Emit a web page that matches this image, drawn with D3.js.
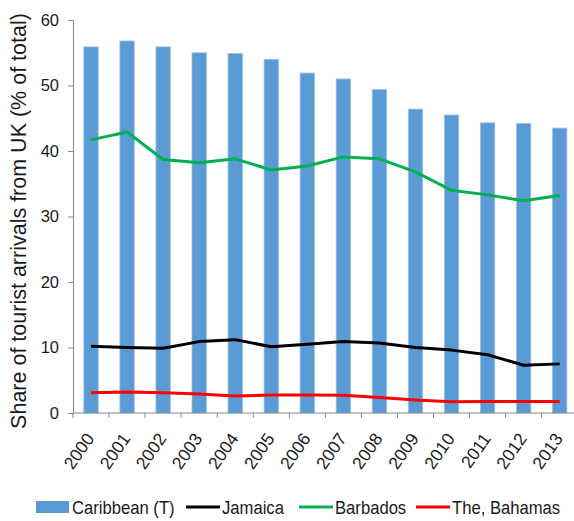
<!DOCTYPE html>
<html>
<head>
<meta charset="utf-8">
<script src="https://cdn.jsdelivr.net/npm/d3@7"></script>
<style>
  html, body { margin: 0; padding: 0; background: #fff; }
  svg { display: block; font-family: "Liberation Sans", Arial, sans-serif; }
</style>
</head>
<body>
<svg id="chart" width="574" height="521"></svg>
<script>
// Share of tourist arrivals from the UK, 2000–2013 (% of total)
const years = ["2000","2001","2002","2003","2004","2005","2006","2007","2008","2009","2010","2011","2012","2013"];
const caribbean = [55.9, 56.8, 55.9, 55.0, 54.9, 54.0, 51.9, 51.0, 49.4, 46.4, 45.5, 44.3, 44.2, 43.5];
const jamaica   = [10.2, 10.0, 9.9, 10.9, 11.2, 10.1, 10.5, 10.9, 10.7, 10.0, 9.6, 8.9, 7.3, 7.5];
const barbados  = [41.7, 42.9, 38.7, 38.2, 38.8, 37.1, 37.7, 39.1, 38.8, 36.8, 34.0, 33.3, 32.4, 33.2];
const bahamas   = [3.1, 3.2, 3.1, 2.9, 2.6, 2.75, 2.75, 2.7, 2.35, 2.0, 1.7, 1.75, 1.75, 1.75];
const yTicks = [0, 10, 20, 30, 40, 50, 60];

const seriesLines = [
  { name: "Jamaica", values: jamaica, color: "#000000" },
  { name: "Barbados", values: barbados, color: "#00B050" },
  { name: "The, Bahamas", values: bahamas, color: "#FF0000" }
];

const svg = d3.select("#chart");
const plotLeft = 73, plotRight = 577.7, plotTop = 20, plotBottom = 413;
const axisColor = "#868686";
const textColor = "#1a1a1a";

const x = d3.scaleBand().domain(years).range([plotLeft, plotRight]).paddingInner(0).paddingOuter(0);
const y = d3.scaleLinear().domain([0, 60]).range([plotBottom, plotTop]);
const barW = x.bandwidth() * 0.4;

// Bars
svg.append("g").selectAll("rect")
  .data(years.map((yr, i) => ({ yr, v: caribbean[i] })))
  .join("rect")
  .attr("x", d => x(d.yr) + (x.bandwidth() - barW) / 2)
  .attr("y", d => y(d.v))
  .attr("width", barW)
  .attr("height", d => y(0) - y(d.v))
  .attr("fill", "#5B9BD5")
  .attr("stroke", "#9cc2e8")
  .attr("stroke-width", 0.8);

// Lines
const line = d3.line()
  .x((d, i) => x(years[i]) + x.bandwidth() / 2)
  .y(d => y(d));
svg.append("g").selectAll("path")
  .data(seriesLines)
  .join("path")
  .attr("d", d => line(d.values))
  .attr("fill", "none")
  .attr("stroke", d => d.color)
  .attr("stroke-width", 3)
  .attr("stroke-linejoin", "round");

// Y axis
const yAxis = svg.append("g")
  .attr("transform", `translate(${plotLeft},0)`)
  .call(d3.axisLeft(y).tickValues(yTicks).tickSize(5).tickPadding(9));
yAxis.select(".domain").attr("stroke", axisColor);
yAxis.selectAll(".tick line").attr("stroke", axisColor);
yAxis.selectAll(".tick text")
  .attr("font-size", 16.5).attr("fill", textColor)
  .attr("font-family", "Liberation Sans, Arial, sans-serif");

// X axis: ticks on category boundaries
const xg = svg.append("g").attr("transform", `translate(0,${plotBottom})`);
xg.append("line").attr("x1", plotLeft).attr("x2", plotRight).attr("stroke", axisColor);
xg.selectAll("line.tk")
  .data(d3.range(years.length + 1))
  .join("line").attr("class", "tk")
  .attr("x1", i => plotLeft + i * x.step()).attr("x2", i => plotLeft + i * x.step())
  .attr("y1", 0).attr("y2", 5)
  .attr("stroke", axisColor);
xg.selectAll("text")
  .data(years)
  .join("text")
  .attr("transform", d => `translate(${x(d) + x.bandwidth() / 2 + 4},${25.5}) rotate(-55)`)
  .attr("text-anchor", "end")
  .attr("font-size", 17.5)
  .attr("fill", textColor)
  .text(d => d);

// Y axis title
svg.append("text")
  .attr("transform", `translate(26,221) rotate(-90)`)
  .attr("text-anchor", "middle")
  .attr("font-size", 21.5)
  .attr("fill", textColor)
  .text("Share of tourist arrivals from UK (% of total)");

// Legend
const lg = svg.append("g").attr("transform", "translate(0,507)");
lg.append("rect").attr("x", 36).attr("y", -6).attr("width", 33).attr("height", 12).attr("fill", "#5B9BD5");
const legendText = (x0, label) =>
  lg.append("text")
    .attr("transform", `translate(${x0},6.5) scale(0.9,1)`)
    .attr("font-size", 18.5)
    .attr("fill", textColor)
    .text(label);
legendText(72, "Caribbean (T)");
const legendItems = [
  { s: seriesLines[0], x0: 186 },
  { s: seriesLines[1], x0: 299 },
  { s: seriesLines[2], x0: 416 }
];
legendItems.forEach(it => {
  lg.append("line").attr("x1", it.x0).attr("x2", it.x0 + 34).attr("y1", 0).attr("y2", 0)
    .attr("stroke", it.s.color).attr("stroke-width", 3);
  legendText(it.x0 + 36, it.s.name);
});
</script>
</body>
</html>
